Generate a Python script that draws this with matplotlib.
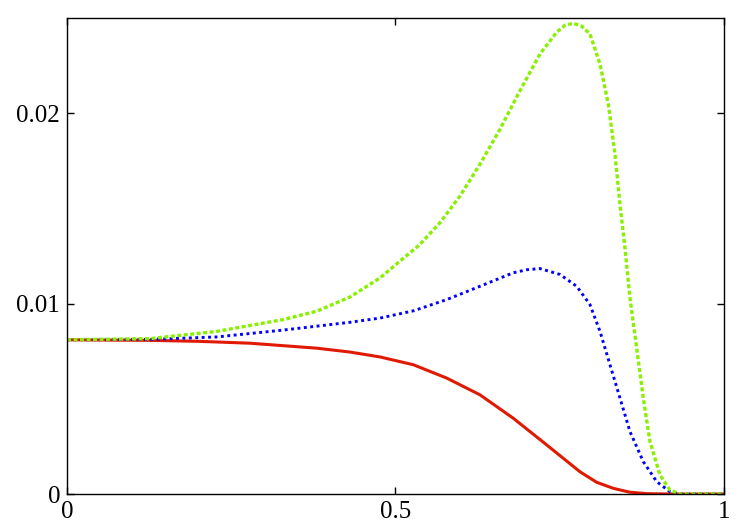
import matplotlib
matplotlib.use("Agg")
import matplotlib.pyplot as plt

# values
red_x = [0.0, 0.126, 0.2, 0.279, 0.38, 0.43, 0.4764, 0.5271, 0.5779, 0.6286, 0.6793,
         0.7301, 0.7808, 0.806, 0.8315, 0.856, 0.8823, 0.92, 1.0]
red_y = [0.0081, 0.00807, 0.00802, 0.00792, 0.00766, 0.00746, 0.0072, 0.00679,
         0.00609, 0.00521, 0.00398, 0.00258, 0.00117, 0.00062, 0.0003, 0.0001,
         0.00002, 0.0, 0.0]

blue_x = [0.0, 0.126, 0.228, 0.329, 0.431, 0.4764, 0.5271, 0.5779, 0.6286, 0.6793,
          0.7, 0.7199, 0.7504, 0.7758, 0.796, 0.8113, 0.8265, 0.8417, 0.8569, 0.8772,
          0.8976, 0.9178, 0.933, 1.0]
blue_y = [0.0081, 0.00812, 0.00825, 0.00861, 0.00902, 0.00924, 0.00962, 0.01021,
          0.01091, 0.01162, 0.01178, 0.01184, 0.01153, 0.01091, 0.00995, 0.00854,
          0.00679, 0.00504, 0.00328, 0.0017, 0.00065, 0.00012, 0.0, 0.0]

green_x = [0.0, 0.126, 0.228, 0.329, 0.38, 0.431, 0.4764, 0.5068, 0.5373, 0.5677,
           0.5982, 0.6286, 0.6591, 0.6895, 0.7199, 0.7453, 0.758, 0.7707, 0.783,
           0.796, 0.8113, 0.824, 0.8341, 0.8417, 0.8493, 0.8569, 0.8671, 0.8772,
           0.8874, 0.9026, 0.9178, 0.933, 1.0]
green_y = [0.0081, 0.00816, 0.00854, 0.00916, 0.0096, 0.01035, 0.01135, 0.01223,
           0.01311, 0.01425, 0.01565, 0.01732, 0.01916, 0.02118, 0.02311, 0.02425,
           0.02462, 0.02472, 0.02458, 0.02416, 0.02258, 0.02047, 0.01784, 0.01521,
           0.01293, 0.0103, 0.00767, 0.00504, 0.00275, 0.001, 0.00021, 0.0, 0.0]

x_ticks = [0, 0.5, 1]
x_labels = ["0", "0.5", "1"]
y_ticks = [0, 0.01, 0.02]
y_labels = ["0", "0.01", "0.02"]

plt.rcParams["font.family"] = ["Liberation Serif", "DejaVu Serif"]
fig = plt.figure(figsize=(7.5, 5.25), dpi=100)
ax = fig.add_axes([0.0893, 0.059, 0.876, 0.9067])

ax.plot(red_x, red_y, "-", color="#e01a00", lw=2.2, solid_joinstyle="round")
ax.plot(blue_x, blue_y, color="#0000ff", lw=2.1, linestyle=(0, (1, 1.2)))
ax.plot(green_x, green_y, color="#88f000", lw=2.4, linestyle=(0, (1.2, 0.75)))

ax.set_xlim(0, 1)
ax.set_ylim(0, 0.025)
ax.set_xticks(x_ticks)
ax.set_xticklabels(x_labels)
ax.set_yticks(y_ticks)
ax.set_yticklabels(y_labels)
ax.tick_params(direction="in", length=5, width=1, labelsize=18,
               top=True, right=True, pad=5)
for s in ax.spines.values():
    s.set_linewidth(1.0)

fig.savefig("out.png", dpi=100)
